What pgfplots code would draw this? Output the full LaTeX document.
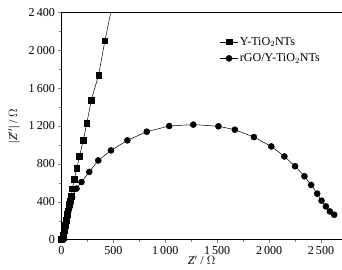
\documentclass[border={5pt 1pt 0pt 5pt}]{standalone}
\usepackage{pgfplots}
\pgfplotsset{compat=1.18}
\usepackage{fontspec}
\setmainfont{Liberation Serif}
\begin{document}
\begin{tikzpicture}
\begin{axis}[
  scale only axis, width=279pt, height=226pt,
  xmin=0, xmax=2700, ymin=0, ymax=2400,
  xtick={0,500,1000,1500,2000,2500},
  ytick={0,400,800,1200,1600,2000,2400},
  minor x tick num=1, minor y tick num=1,
  tick pos=left, tick align=outside,
  major tick length=3pt, minor tick length=2pt,
  /pgf/number format/assume math mode=true,
  /pgf/number format/.cd, 1000 sep={\hspace{2pt}}, /pgfplots/.cd,
  tick label style={font=\fontsize{12}{14}\selectfont},
  label style={font=\fontsize{12}{14}\selectfont},
  xlabel={\textit{Z}$'$ / $\Omega$},
  ylabel={|\textit{Z}$''$| / $\Omega$},
  xlabel style={yshift=5pt},
  ylabel style={yshift=2pt},
  legend style={draw=none, fill=none, at={(0.94,0.91)}, anchor=north east,
    font=\fontsize{12}{14}\selectfont, row sep=3pt},
  legend cell align=left,
  every axis plot/.append style={black, line width=0.5pt},
]
\addplot[mark=square*, mark size=2.8pt] coordinates {
(0,0)(10,8)(15,25)(19,45)(23,70)(27,95)(31,120)(35,148)(40,175)(45,205)(50,235)(56,265)(62,298)(70,335)(78,370)(86,410)(97,457)(106,538)(123,634)(148,751)(174,878)(210,1048)(245,1232)(287,1473)(358,1738)(419,2102)(550,2800)
};
\addlegendentry{Y-TiO$_2$NTs}
\addplot[mark=*, mark size=3pt] coordinates {
(0,0)(12,10)(16,28)(20,50)(24,75)(28,100)(33,128)(38,158)(44,190)(50,222)(57,256)(65,292)(74,330)(84,372)(103,449)(145,538)(193,608)(268,715)(355,836)(477,942)(635,1048)(822,1140)(1038,1200)(1270,1215)(1512,1197)(1670,1161)(1854,1083)(2021,984)(2147,878)(2250,775)(2340,669)(2405,577)(2463,485)(2505,411)(2547,350)(2585,297)(2627,262)
};
\addlegendentry{rGO/Y-TiO$_2$NTs}
\end{axis}
\end{tikzpicture}
\end{document}
